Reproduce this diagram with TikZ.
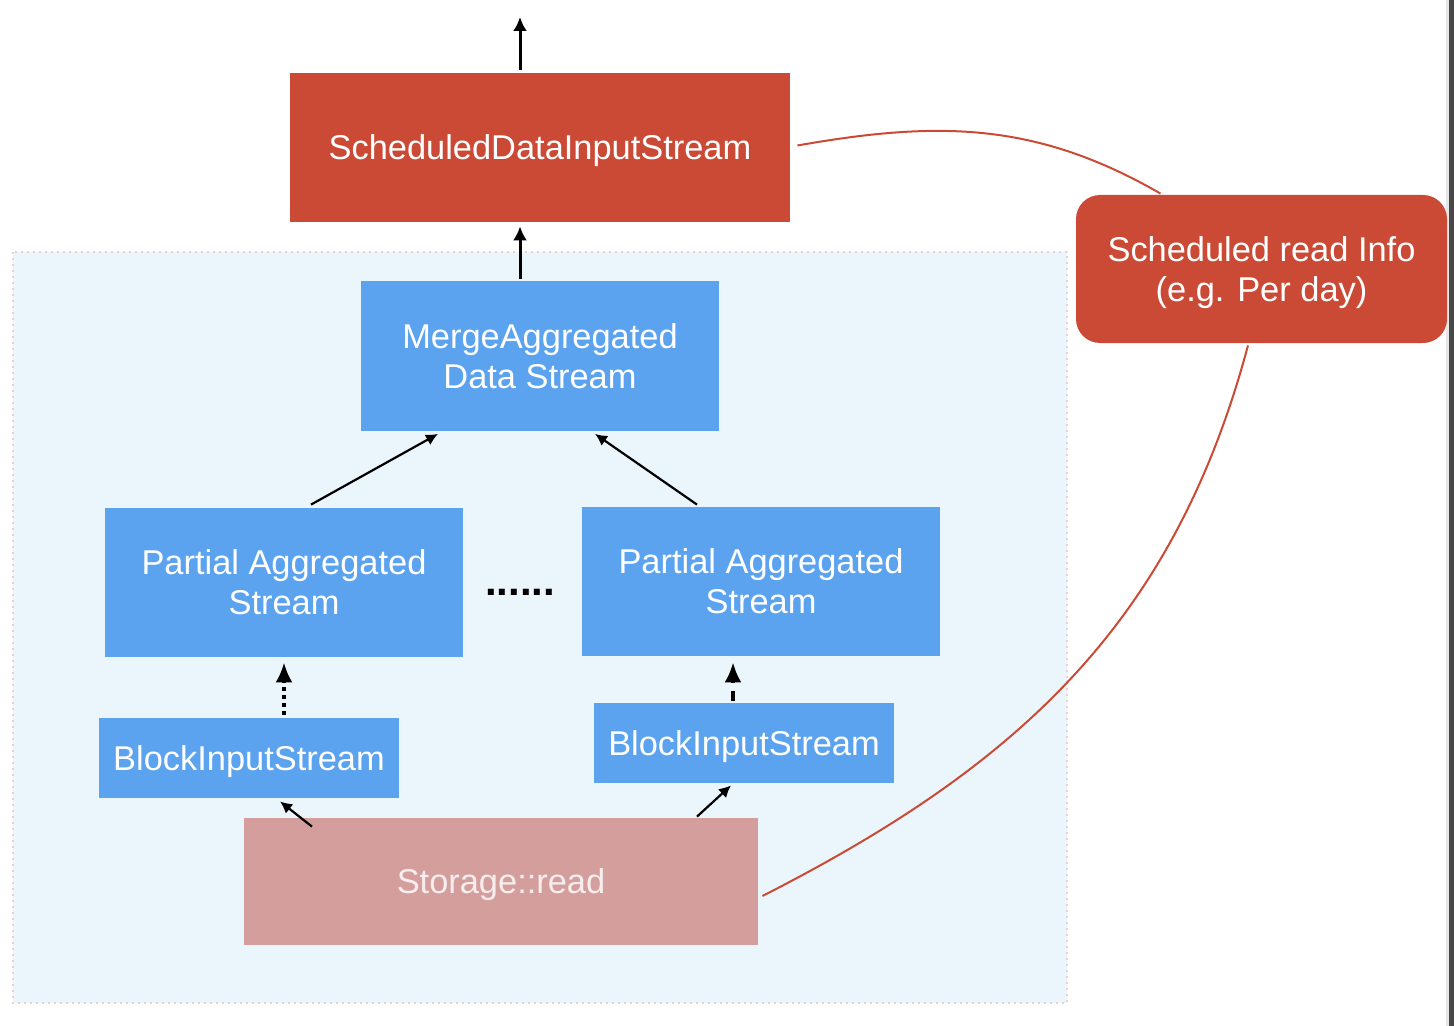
\documentclass[tikz,border=0pt]{standalone}
\usepackage{fontspec}
\setmainfont{Liberation Sans}
\usepackage{xcolor}
\usepackage{tikz}
\usetikzlibrary{arrows.meta,calc}
\definecolor{schedRed}{HTML}{CB4A35}
\definecolor{streamBlue}{HTML}{5BA2EF}
\definecolor{storePink}{HTML}{D49E9C}
\definecolor{storeText}{HTML}{F6EEEE}
\definecolor{panelBg}{HTML}{EBF5FC}
\definecolor{panelEdge}{HTML}{F5CCCC}
\definecolor{edgeGrey}{HTML}{484848}
\definecolor{edgeLight}{HTML}{E6E6E6}
\tikzset{
  boxText/.style={text=white, align=center, inner sep=0pt, text depth=0pt, font=\fontsize{17.2}{20}\selectfont},
  schedBox/.style={boxText, fill=schedRed, minimum width=250pt, minimum height=74.5pt},
  infoBox/.style={boxText, fill=schedRed, rounded corners=12pt, minimum width=185.5pt, minimum height=74pt},
  streamBox/.style={boxText, fill=streamBlue, minimum width=179pt, minimum height=74.5pt},
  blockBox/.style={boxText, fill=streamBlue, minimum width=150pt, minimum height=40pt},
  storeBox/.style={boxText, fill=storePink, text=storeText, minimum width=257pt, minimum height=63.5pt},
  panel/.style={fill=panelBg, draw=panelEdge, line width=1pt, dotted},
  outArrow/.style={draw=black, line width=1.5pt, -{Latex[length=7pt,width=7pt]}},
  flowArrow/.style={draw=black, line width=1.1pt, -{Latex[length=6pt,width=6pt]}},
  dotArrow/.style={draw=black, line width=1.7pt, dash pattern=on 2pt off 2pt, -{Latex[length=10pt,width=8.5pt]}},
  dashArrow/.style={draw=black, line width=1.7pt, dash pattern=on 5pt off 4pt, -{Latex[length=10pt,width=8.5pt]}},
  infoLink/.style={draw=schedRed, line width=1pt}
}
\begin{document}
\begin{tikzpicture}[x=0.5pt, y=-0.5pt]
  \useasboundingbox (0,0) rectangle (1454,1026);

  % window edge at the right
  \fill[edgeLight] (1446,0) rectangle (1449,1026);
  \fill[edgeGrey] (1449,0) rectangle (1454,1026);

  % background panel
  \draw[panel] (13,252) rectangle (1067,1003);

  \node[schedBox] (sched) at (540,147.5) {ScheduledDataInputStream};
  \node[infoBox] (info) at (1261.5,269) {Scheduled read Info\\(e.g. Per day)};
  \node[streamBox] (merge) at (540,356) {MergeAggregated\\Data Stream};
  \node[streamBox] (partL) at (284,582.5) {Partial Aggregated\\Stream};
  \node[streamBox] (partR) at (761,581.5) {Partial Aggregated\\Stream};
  \node[font=\bfseries\fontsize{21}{21}\selectfont, inner sep=0pt] (gap) at (520,592) {......};
  \node[blockBox] (blockL) at (249,758) {BlockInputStream};
  \node[blockBox] (blockR) at (744,743) {BlockInputStream};
  \node[storeBox] (store) at (501,881.5) {Storage::read};

  \coordinate (outTop) at (520,17);

  % arrows
  \draw[outArrow] ([xshift=-10pt,yshift=1.5pt]sched.north) -- (outTop);
  \draw[outArrow] ([xshift=-10pt,yshift=1pt]merge.north) -- ([xshift=-10pt,yshift=-2pt]sched.south);
  \draw[flowArrow] ([xshift=13.5pt,yshift=1.5pt]partL.north) -- ([xshift=-51pt,yshift=-1.5pt]merge.south);
  \draw[flowArrow] ([xshift=-32pt,yshift=1pt]partR.north) -- ([xshift=27.5pt,yshift=-1.5pt]merge.south);
  \draw[dotArrow] ([xshift=17.5pt,yshift=1.5pt]blockL.north) -- ([yshift=-2.5pt]partL.south);
  \draw[dashArrow] ([xshift=-5.5pt,yshift=1pt]blockR.north) -- ([xshift=-14pt,yshift=-3pt]partR.south);
  \draw[flowArrow] ([xshift=-94.5pt,yshift=-4.5pt]store.north) -- ([xshift=15.5pt,yshift=-1.5pt]blockL.south);
  \draw[flowArrow] ([xshift=98pt,yshift=0.5pt]store.north) -- ([xshift=-6.5pt,yshift=-1pt]blockR.south);

  % links to the schedule info
  \draw[infoLink] ([xshift=3.5pt,yshift=1pt]sched.east) to[out=10, in=150] ([xshift=-50.5pt,yshift=0.5pt]info.north);
  \draw[infoLink] ([xshift=-6.75pt,yshift=-1pt]info.south) to[out=255, in=27] ([xshift=2pt,yshift=-7.25pt]store.east);
\end{tikzpicture}
\end{document}
